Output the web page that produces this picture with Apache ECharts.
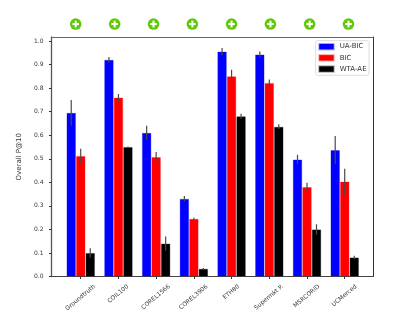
<!DOCTYPE html>
<html><head><meta charset="utf-8">
<style>html,body{margin:0;padding:0;background:#fff}#c{width:415px;height:311px}</style>
<script src="https://cdn.jsdelivr.net/npm/echarts@6/dist/echarts.min.js"></script>
</head><body><div id="c"></div>
<script>
const categories = ['Groundtruth','COIL100','COREL1566','COREL3906','ETH80','Supermkt P.','MSRCORID','UCMerced'];
const uaBic = [0.695,0.92,0.61,0.33,0.955,0.943,0.497,0.537];
const bic = [0.512,0.76,0.507,0.245,0.85,0.822,0.38,0.403];
const wtaAe = [0.10,0.55,0.14,0.033,0.68,0.636,0.20,0.081];
const uaBicErr = [0.055,0.012,0.03,0.012,0.015,0.012,0.02,0.06];
const bicErr = [0.03,0.015,0.022,0.005,0.028,0.015,0.018,0.055];
const wtaAeErr = [0.02,0.002,0.03,0.003,0.011,0.01,0.022,0.007];
const yTicks = [0,0.1,0.2,0.3,0.4,0.5,0.6,0.7,0.8,0.9,1.0];
const xTicks = [0,1,2,3,4,5,6,7];
const markerSlots = [-0.133,0.9,1.93,2.96,4.0,5.03,6.07,7.1];
const markerLevel = 1.072;

const chart = echarts.init(document.getElementById('c'));
const font = 'DejaVu Sans';
const BAR = 9.5;
const LABEL = 6;
const ANGLE = 40 * Math.PI / 180;
const measure = document.createElement('canvas').getContext('2d');
measure.font = LABEL + 'px "DejaVu Sans"';
function barSeries(name, color, edge, vals){
  return {name, type:'bar', data: vals.map((v,i)=>[i,v]), barWidth:BAR, barGap:0,
    itemStyle:{color, borderColor:edge, borderWidth:1}, emphasis:{disabled:true}};
}
function errSeries(vals, errs, off){
  return {type:'custom', silent:true, z:5, tooltip:{show:false},
    data: vals.map((v,i)=>[i,v,errs[i]]),
    renderItem(p,api){
      const x=api.coord([api.value(0),0])[0]+off;
      const a=api.coord([0,api.value(1)-api.value(2)])[1];
      const b=api.coord([0,api.value(1)+api.value(2)])[1];
      return {type:'line',shape:{x1:x,y1:a,x2:x,y2:b},style:{stroke:'#4a4a4a',lineWidth:1.2}};
    }};
}
chart.setOption({
  animation:false,
  grid:{left:51.5,right:42,top:37,bottom:34.5,containLabel:false,outerBoundsMode:'none',show:false},
  legend:{left:315.7,top:40.7,orient:'vertical',itemWidth:14.5,itemHeight:5.5,itemGap:3.7,
    padding:[2.2,2.5,2.5,2.5],backgroundColor:'#fff',borderColor:'#dcdcdc',borderWidth:1,borderRadius:2,
    textStyle:{fontFamily:font,fontSize:7,color:'#333',lineHeight:7,padding:[0,0,0,1]},
    data:['UA-BIC','BIC','WTA-AE'],icon:'rect'},
  xAxis:[{type:'value',min:-0.775,max:7.75,splitLine:{show:false},
    axisLine:{show:true,onZero:false,lineStyle:{color:'#444',width:1.1}},
    axisTick:{show:true,length:2.5,customValues:xTicks,lineStyle:{color:'#333'}},
    axisLabel:{show:false}},
   {type:'value',position:'top',min:-0.775,max:7.75,splitLine:{show:false},
    axisLine:{show:true,onZero:false,lineStyle:{color:'#666',width:1.2}},axisTick:{show:false},axisLabel:{show:false}}],
  yAxis:[{type:'value',min:0,max:1.017,splitLine:{show:false},
    axisLine:{show:true,onZero:false,lineStyle:{color:'#555',width:1.3}},
    axisTick:{show:true,length:2.5,customValues:yTicks,lineStyle:{color:'#333'}},
    axisLabel:{customValues:yTicks,fontFamily:font,fontSize:6,color:'#333',margin:8,
      showMaxLabel:true,formatter:v=>v.toFixed(1)},
    name:'Overall P@10',nameLocation:'middle',nameGap:24,
    nameTextStyle:{fontFamily:font,fontSize:7,color:'#333'}},
   {type:'value',position:'right',min:0,max:1.017,splitLine:{show:false},
    axisLine:{show:true,onZero:false,lineStyle:{color:'#333',width:1}},axisTick:{show:false},axisLabel:{show:false}}],
  series:[
    barSeries('UA-BIC','#0000ff','rgba(0,0,255,0.3)',uaBic),
    barSeries('BIC','#ff0000','rgba(255,0,0,0.3)',bic),
    barSeries('WTA-AE','#000000','rgba(0,0,0,0.3)',wtaAe),
    errSeries(uaBic,uaBicErr,-BAR),
    errSeries(bic,bicErr,0),
    errSeries(wtaAe,wtaAeErr,BAR),
    {type:'custom',silent:true,clip:false,z:6,
     data:markerSlots.map(x=>[x,markerLevel]),
     renderItem(p,api){
       const [x,y]=api.coord([api.value(0),api.value(1)]);
       return {type:'group',children:[
         {type:'circle',shape:{cx:x,cy:y,r:5.8},style:{fill:'#62c90a'}},
         {type:'rect',shape:{x:x-3.3,y:y-1,width:6.6,height:2},style:{fill:'#fff'}},
         {type:'rect',shape:{x:x-1,y:y-3.3,width:2,height:6.6},style:{fill:'#fff'}}
       ]};
     }},
    {type:'custom',silent:true,clip:false,z:6,
     data:xTicks.map(i=>[i,0]),
     renderItem(p,api){
       const i=api.value(0);
       const [x,y]=api.coord([i,0]);
       const text=categories[i];
       const extent=measure.measureText(text).width*Math.sin(ANGLE)+LABEL*Math.cos(ANGLE);
       return {type:'text',x:x-0.3,y:y+7+extent/2,rotation:ANGLE,
         style:{text,x:0,y:0,align:'center',verticalAlign:'middle',fontFamily:font,fontSize:LABEL,fill:'#333'}};
     }}
  ]
});
</script></body></html>
